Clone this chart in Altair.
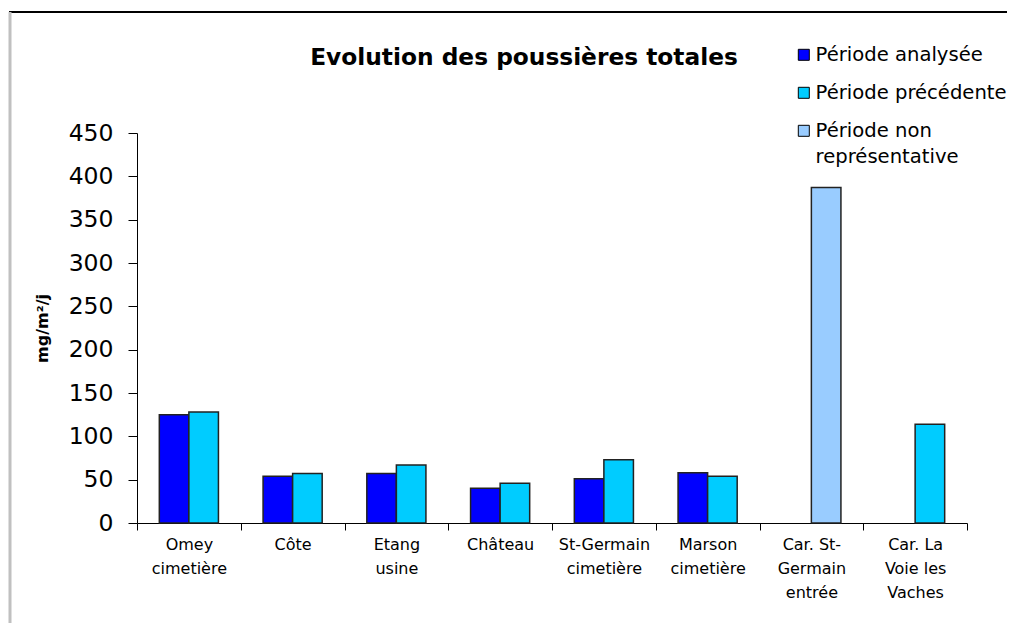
import altair as alt
import pandas as pd

title_text = "Evolution des poussières totales"
categories = ["Omey|cimetière", "Côte", "Etang|usine", "Château", "St-Germain|cimetière",
              "Marson|cimetière", "Car. St-|Germain|entrée", "Car. La|Voie les|Vaches"]
analysee = [125, 54, 57, 40, 51, 58, None, None]
precedente = [128, 57, 67, 46, 73, 54, None, 114]
non_representative = [None, None, None, None, None, None, 387, None]
series_names = ["Période analysée", "Période précédente", "Période non représentative"]
series_colors = ["#0000FF", "#00CCFF", "#99CCFF"]
slots = ["1", "2", "2"]
y_ticks = [0, 50, 100, 150, 200, 250, 300, 350, 400, 450]

rows = []
for values, name, slot in zip([analysee, precedente, non_representative], series_names, slots):
    for c, v in zip(categories, values):
        if v is not None:
            rows.append({"site": c, "serie": name, "slot": slot, "value": v})
df = pd.DataFrame(rows)

FONT = "DejaVu Sans"

bars = alt.Chart(df).mark_bar(stroke="#222222", strokeWidth=1.5).encode(
    x=alt.X("site:N", sort=categories,
            scale=alt.Scale(domain=categories, paddingInner=0, paddingOuter=0),
            axis=alt.Axis(title=None, labelExpr="split(datum.label, '|')", labelAngle=0,
                          tickBand="extent", tickSize=7, tickColor="black", domainColor="black",
                          labelFont=FONT, labelFontSize=16, labelColor="black",
                          labelLineHeight=24, labelPadding=6, labelBaseline="top")),
    xOffset=alt.XOffset("slot:N", scale=alt.Scale(domain=["1", "2"], paddingInner=0, paddingOuter=0.755)),
    y=alt.Y("value:Q", scale=alt.Scale(domain=[0, 450], nice=False),
            axis=alt.Axis(values=y_ticks, title="mg/m²/j", grid=False, tickSize=9,
                          tickColor="black", domainColor="black",
                          labelFont=FONT, labelFontSize=23.5, labelColor="black", labelPadding=15,
                          titleFont=FONT, titleFontSize=16, titleFontWeight="bold",
                          titleColor="black", titlePadding=18)),
    color=alt.Color("serie:N", scale=alt.Scale(domain=series_names, range=series_colors),
                    legend=alt.Legend(title=None, orient="none", legendX=657, legendY=-88,
                                      labelFont=FONT, labelFontSize=19.6, labelColor="black",
                                      labelLimit=400, symbolType="square", symbolSize=121,
                                      symbolStrokeColor="black", symbolStrokeWidth=1,
                                      rowPadding=17, labelOffset=2,
                                      labelExpr="datum.label == 'Période non représentative' ? ['Période non', 'représentative'] : datum.label")),
)

title_mark = alt.Chart(pd.DataFrame({"t": [title_text]})).mark_text(
    font=FONT, fontSize=23.3, fontWeight="bold", color="black", align="center", baseline="alphabetic"
).encode(text="t:N", x=alt.value(387), y=alt.value(-68))

frame_top = alt.Chart(pd.DataFrame({"t": [title_text]})).mark_rule(color="black", strokeWidth=2).encode(
    x=alt.value(-128), x2=alt.value(900), y=alt.value(-121))
frame_left = alt.Chart(pd.DataFrame({"t": [title_text]})).mark_rule(color="#c0c0c0", strokeWidth=3).encode(
    x=alt.value(-127), y=alt.value(-121), y2=alt.value(500))

chart = alt.layer(frame_top, frame_left, title_mark, bars).properties(
    width=830, height=390,
    background="white",
    autosize=alt.AutoSizeParams(type="none"),
    padding={"left": 129, "top": 125, "right": 40, "bottom": 100},
).configure(
    view=alt.ViewConfig(strokeWidth=0, stroke="transparent"),
    style={"guide-label": {"lineHeight": 26}},
)

chart.save("out.html", embed_options={"renderer": "svg", "actions": False})
